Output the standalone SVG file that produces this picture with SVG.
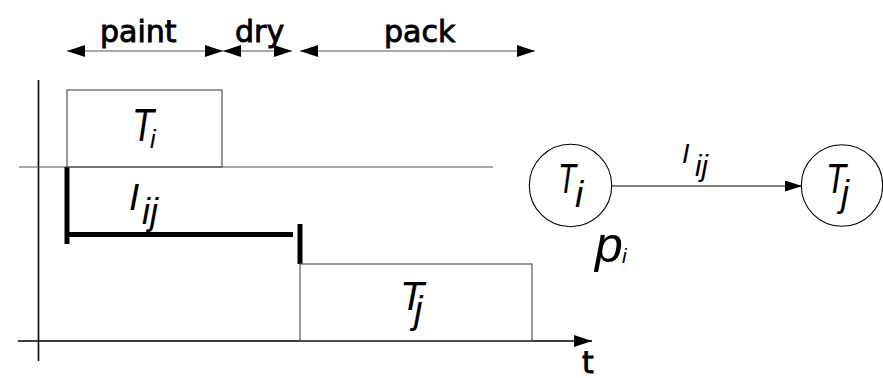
<svg xmlns="http://www.w3.org/2000/svg" width="883" height="378" viewBox="0 0 883 378">
<style>
.thin{stroke:#555;stroke-width:1.2;fill:none}
.ax{stroke:#000;stroke-width:1.6;fill:none}
.thick{stroke:#000;stroke-width:5;fill:none}
.lbl{font-family:"DejaVu Sans",sans-serif;font-size:30px;fill:#000;stroke:#000;stroke-width:0.9}
.m{font-family:"Liberation Sans",Arial,sans-serif;font-style:italic;fill:#000}
</style>
<defs>
<marker id="ah" markerUnits="userSpaceOnUse" markerWidth="18" markerHeight="12" refX="18" refY="6" orient="auto-start-reverse">
<path d="M0,0 L18,6 L0,12 Z" fill="#000"/>
</marker>
<marker id="ah2" markerUnits="userSpaceOnUse" markerWidth="17" markerHeight="11" refX="17" refY="5.5" orient="auto">
<path d="M0,0 L17,5.5 L0,11 Z" fill="#000"/>
</marker>
</defs>
<g id="connectors">
<line class="thin" x1="67" y1="51" x2="223" y2="51" marker-start="url(#ah)" marker-end="url(#ah)"/>
<line class="thin" x1="223" y1="51" x2="292" y2="51" marker-start="url(#ah)" marker-end="url(#ah)"/>
<line class="thin" x1="300" y1="51" x2="535" y2="51" marker-start="url(#ah)" marker-end="url(#ah)"/>
<line class="ax" x1="38.5" y1="80" x2="38.5" y2="361"/>
<line class="ax" x1="18" y1="341" x2="592" y2="341" marker-end="url(#ah)"/>
<line class="thin" x1="19" y1="167" x2="493" y2="167"/>
<line class="thick" x1="67" y1="167" x2="67" y2="244"/>
<line class="thick" x1="67" y1="234.5" x2="293" y2="234.5"/>
<line class="thick" x1="300" y1="224" x2="300" y2="264"/>
<line stroke="#000" stroke-width="1.2" x1="611.5" y1="186" x2="802" y2="186" marker-end="url(#ah2)"/>
</g>
<g id="labels-top">
<text class="lbl" x="100" y="42">paint</text>
<text class="lbl" x="235" y="42">dry</text>
<text class="lbl" x="384" y="42">pack</text>
<text class="lbl" x="582" y="373">t</text>
</g>
<g id="Ti-box">
<rect class="thin" x="67" y="90" width="155" height="77"/>
<text class="m" x="132" y="141" font-size="46" textLength="22" lengthAdjust="spacingAndGlyphs">T</text>
<text class="m" x="150" y="148" font-size="25">i</text>
</g>
<g id="Iij-left">
<text class="m" x="129" y="210" font-size="37">I</text>
<text class="m" x="142" y="224" font-size="36">ij</text>
</g>
<g id="Tj-box">
<rect class="thin" x="300" y="264" width="232" height="77"/>
<text class="m" x="400" y="310" font-size="40" textLength="24" lengthAdjust="spacingAndGlyphs">T</text>
<text class="m" x="414" y="323" font-size="38">j</text>
</g>
<g id="Ti-node">
<circle cx="570.5" cy="185.5" r="41.2" fill="none" stroke="#000" stroke-width="1.1"/>
<text class="m" x="558" y="193" font-size="42" textLength="18" lengthAdjust="spacingAndGlyphs">T</text>
<text class="m" x="575" y="207" font-size="37">i</text>
<text class="m" x="595" y="262" font-size="50">p</text>
<text class="m" x="622" y="263" font-size="21">i</text>
</g>
<g id="Tj-node">
<circle cx="842" cy="185.5" r="40.7" fill="none" stroke="#000" stroke-width="1.1"/>
<text class="m" x="826" y="193" font-size="42" textLength="20" lengthAdjust="spacingAndGlyphs">T</text>
<text class="m" x="841" y="206" font-size="36">j</text>
</g>
<g id="Iij-edge">
<text class="m" x="682" y="163" font-size="27">I</text>
<text class="m" x="695" y="176" font-size="29">ij</text>
</g>
</svg>
